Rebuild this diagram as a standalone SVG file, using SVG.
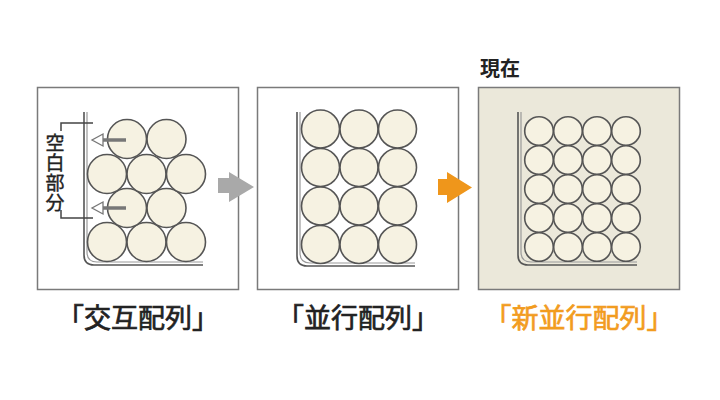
<svg xmlns="http://www.w3.org/2000/svg" width="720" height="400" viewBox="0 0 720 400">
<style>
.box{fill:#fff;stroke:#7a7a7a;stroke-width:1.5}
.c{fill:#f6f2e2;stroke:#555;stroke-width:1.6}
.wo{fill:none;stroke:#555;stroke-width:1.6}
.wi{fill:none;stroke:#999;stroke-width:1.2}
.lbl{font-family:"Noto Sans CJK JP","Noto Sans CJK SC",sans-serif;font-size:27px;font-weight:400;text-anchor:middle;stroke-width:0.7}
.small{font-family:"Noto Sans CJK JP","Noto Sans CJK SC",sans-serif;font-size:19px;font-weight:400;fill:#222;stroke:#222;stroke-width:0.4;writing-mode:vertical-rl}
</style>
<rect width="720" height="400" fill="#fff"/>

<g id="box1">
<rect class="box" x="37.5" y="87.5" width="201" height="202"/>
<path class="wo" d="M84 112 V255 Q84 265 94 265 H203"/>
<path class="wi" d="M87 112 V252 Q87 262 97 262 H203"/>
<circle class="c" cx="107" cy="242" r="19.5"/>
<circle class="c" cx="146.5" cy="242" r="19.5"/>
<circle class="c" cx="186" cy="242" r="19.5"/>
<circle class="c" cx="127" cy="208" r="19.5"/>
<circle class="c" cx="166.5" cy="208" r="19.5"/>
<circle class="c" cx="107" cy="174" r="19.5"/>
<circle class="c" cx="146.5" cy="174" r="19.5"/>
<circle class="c" cx="186" cy="174" r="19.5"/>
<circle class="c" cx="127" cy="139" r="19.5"/>
<circle class="c" cx="166.5" cy="139" r="19.5"/>
<path d="M93 123 H61 V131 M61 210 V218 H93" fill="none" stroke="#444" stroke-width="1.5"/>
<text class="small" x="55" y="133" letter-spacing="1">空白部分</text>
<g stroke="#777">
<line x1="103" y1="140" x2="126" y2="140" stroke-width="3.5"/>
<polygon points="103,134 92,140 103,146" fill="#fff" stroke-width="1.3"/>
<line x1="103" y1="208" x2="126" y2="208" stroke-width="3.5"/>
<polygon points="103,202 92,208 103,214" fill="#fff" stroke-width="1.3"/>
</g>
</g>

<g id="box2">
<rect class="box" x="257.5" y="87.5" width="201" height="202"/>
<path class="wo" d="M297 112 V256 Q297 266 307 266 H415"/>
<path class="wi" d="M300 112 V253 Q300 263 310 263 H415"/>
<circle class="c" cx="320.5" cy="129" r="19"/>
<circle class="c" cx="359" cy="129" r="19"/>
<circle class="c" cx="397.5" cy="129" r="19"/>
<circle class="c" cx="320.5" cy="167.5" r="19"/>
<circle class="c" cx="359" cy="167.5" r="19"/>
<circle class="c" cx="397.5" cy="167.5" r="19"/>
<circle class="c" cx="320.5" cy="206" r="19"/>
<circle class="c" cx="359" cy="206" r="19"/>
<circle class="c" cx="397.5" cy="206" r="19"/>
<circle class="c" cx="320.5" cy="244.5" r="19"/>
<circle class="c" cx="359" cy="244.5" r="19"/>
<circle class="c" cx="397.5" cy="244.5" r="19"/>
</g>

<g id="box3">
<text x="480" y="76" font-family="'Noto Sans CJK JP','Noto Sans CJK SC',sans-serif" font-size="20" font-weight="bold" fill="#222">現在</text>
<rect x="478.5" y="87.5" width="201" height="202" fill="#ebe8da" stroke="#7a7a7a" stroke-width="1.5"/>
<path class="wo" d="M518 112 V255 Q518 265 528 265 H637"/>
<path class="wi" d="M521 112 V252 Q521 262 531 262 H637"/>
<g id="grid3">
<circle class="c" cx="539" cy="131" r="14.3"/><circle class="c" cx="568" cy="131" r="14.3"/><circle class="c" cx="597" cy="131" r="14.3"/><circle class="c" cx="626" cy="131" r="14.3"/>
<circle class="c" cx="539" cy="160" r="14.3"/><circle class="c" cx="568" cy="160" r="14.3"/><circle class="c" cx="597" cy="160" r="14.3"/><circle class="c" cx="626" cy="160" r="14.3"/>
<circle class="c" cx="539" cy="189" r="14.3"/><circle class="c" cx="568" cy="189" r="14.3"/><circle class="c" cx="597" cy="189" r="14.3"/><circle class="c" cx="626" cy="189" r="14.3"/>
<circle class="c" cx="539" cy="218" r="14.3"/><circle class="c" cx="568" cy="218" r="14.3"/><circle class="c" cx="597" cy="218" r="14.3"/><circle class="c" cx="626" cy="218" r="14.3"/>
<circle class="c" cx="539" cy="247" r="14.3"/><circle class="c" cx="568" cy="247" r="14.3"/><circle class="c" cx="597" cy="247" r="14.3"/><circle class="c" cx="626" cy="247" r="14.3"/>
</g>
</g>

<g id="connectors">
<polygon points="218,178 229,178 229,172 254,187 229,202 229,193 218,193" fill="#a9a9a9"/>
<polygon points="438,179 447,179 447,172 472,187.5 447,203 447,195 438,195" fill="#ef961b"/>
</g>

<g id="labels">
<text class="lbl" x="138" y="328" fill="#222" stroke="#222">「交互配列」</text>
<text class="lbl" x="358" y="328" fill="#222" stroke="#222">「並行配列」</text>
<text class="lbl" x="579" y="328" fill="#f29c1f" stroke="#f29c1f">「新並行配列」</text>
</g>
</svg>
